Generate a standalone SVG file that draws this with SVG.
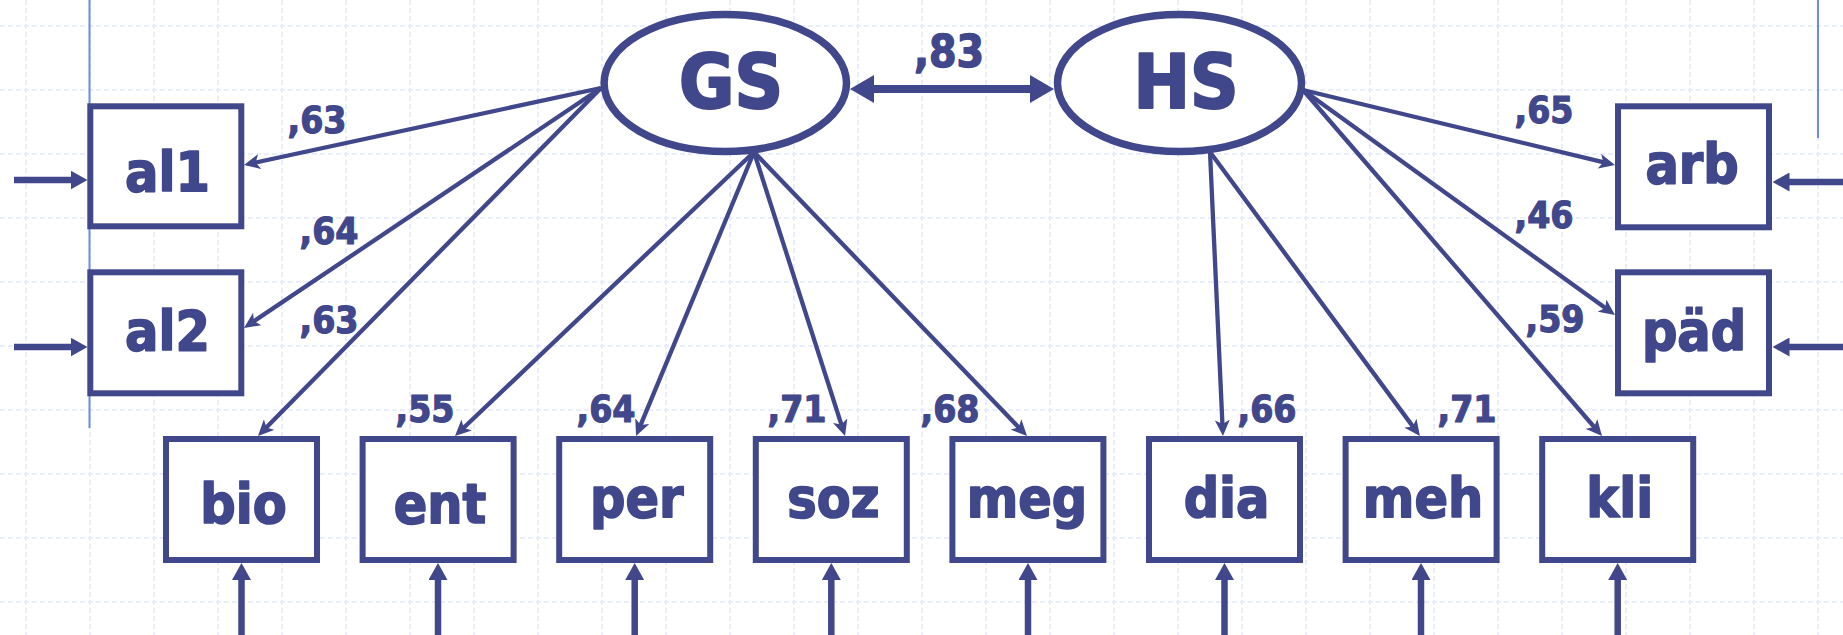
<svg xmlns="http://www.w3.org/2000/svg" width="1843" height="635" viewBox="0 0 1843 635">
<style>
.grid line{stroke:#e3e8fa;stroke-width:1.6;stroke-dasharray:5 3}
.box{fill:#ffffff;stroke:#41478b;stroke-width:6}
.ell{fill:#ffffff;stroke:#41478b;stroke-width:7.5}
.lbl{font-family:"DejaVu Sans Condensed","DejaVu Sans",sans-serif;font-stretch:condensed;font-weight:bold;fill:#41478b;stroke:#41478b;text-anchor:middle;stroke-linejoin:round}
.node{font-size:55px;stroke-width:1.6}
.lat{font-size:75px;stroke-width:2.2}
.coef{font-size:37px;stroke-width:1.1}
.conn{stroke:#41478b;stroke-width:4.3;fill:none;marker-end:url(#ah)}
.inp{stroke:#41478b;stroke-width:6.5;fill:none;marker-end:url(#ih)}
.side{stroke:#6d89f0;stroke-width:2}
</style>
<defs>
<marker id="ah" viewBox="0 0 16 15" refX="8" refY="7.5" markerWidth="16" markerHeight="15" markerUnits="userSpaceOnUse" orient="auto"><path d="M0,0 L16,7.5 L0,15 L4,7.5 z" fill="#41478b"/></marker>
<marker id="ih" viewBox="0 0 17 19" refX="8" refY="9.5" markerWidth="17" markerHeight="19" markerUnits="userSpaceOnUse" orient="auto"><path d="M0,0 L17,9.5 L0,19 z" fill="#41478b"/></marker>
<marker id="bh" viewBox="0 0 24 28" refX="12" refY="14" markerWidth="24" markerHeight="28" markerUnits="userSpaceOnUse" orient="auto-start-reverse"><path d="M0,0 L24,14 L0,28 z" fill="#41478b"/></marker>
</defs>
<rect width="1843" height="635" fill="#ffffff"/>
<g class="grid">
<line x1="26" y1="0" x2="26" y2="635"/><line x1="90" y1="0" x2="90" y2="635"/><line x1="154" y1="0" x2="154" y2="635"/><line x1="218" y1="0" x2="218" y2="635"/><line x1="282" y1="0" x2="282" y2="635"/><line x1="346" y1="0" x2="346" y2="635"/><line x1="410" y1="0" x2="410" y2="635"/><line x1="474" y1="0" x2="474" y2="635"/><line x1="538" y1="0" x2="538" y2="635"/><line x1="602" y1="0" x2="602" y2="635"/><line x1="666" y1="0" x2="666" y2="635"/><line x1="730" y1="0" x2="730" y2="635"/><line x1="794" y1="0" x2="794" y2="635"/><line x1="858" y1="0" x2="858" y2="635"/><line x1="922" y1="0" x2="922" y2="635"/><line x1="986" y1="0" x2="986" y2="635"/><line x1="1050" y1="0" x2="1050" y2="635"/><line x1="1114" y1="0" x2="1114" y2="635"/><line x1="1178" y1="0" x2="1178" y2="635"/><line x1="1242" y1="0" x2="1242" y2="635"/><line x1="1306" y1="0" x2="1306" y2="635"/><line x1="1370" y1="0" x2="1370" y2="635"/><line x1="1434" y1="0" x2="1434" y2="635"/><line x1="1498" y1="0" x2="1498" y2="635"/><line x1="1562" y1="0" x2="1562" y2="635"/><line x1="1626" y1="0" x2="1626" y2="635"/><line x1="1690" y1="0" x2="1690" y2="635"/><line x1="1754" y1="0" x2="1754" y2="635"/><line x1="1818" y1="0" x2="1818" y2="635"/>
<line x1="0" y1="26" x2="1843" y2="26"/><line x1="0" y1="90" x2="1843" y2="90"/><line x1="0" y1="154" x2="1843" y2="154"/><line x1="0" y1="218" x2="1843" y2="218"/><line x1="0" y1="282" x2="1843" y2="282"/><line x1="0" y1="346" x2="1843" y2="346"/><line x1="0" y1="410" x2="1843" y2="410"/><line x1="0" y1="474" x2="1843" y2="474"/><line x1="0" y1="538" x2="1843" y2="538"/><line x1="0" y1="602" x2="1843" y2="602"/>
</g>
<line class="side" x1="89.5" y1="0" x2="89.5" y2="428"/>
<line class="side" x1="1818" y1="0" x2="1818" y2="138"/>
<g id="connectors">
<line class="conn" x1="601" y1="88" x2="251.8" y2="163.3"/>
<line class="conn" x1="601" y1="88" x2="250.6" y2="323.5"/>
<line class="conn" x1="601" y1="88" x2="263.6" y2="430.3"/>
<line class="conn" x1="754" y1="152" x2="460.8" y2="430.5"/>
<line class="conn" x1="754" y1="152" x2="639.1" y2="428.6"/>
<line class="conn" x1="754" y1="152" x2="842.6" y2="428.4"/>
<line class="conn" x1="754" y1="152" x2="1021.5" y2="430.2"/>
<line class="conn" x1="1210" y1="152" x2="1222.6" y2="428"/>
<line class="conn" x1="1210" y1="152" x2="1415.2" y2="429.6"/>
<line class="conn" x1="1303" y1="90" x2="1596.8" y2="430"/>
<line class="conn" x1="1303" y1="90" x2="1607.2" y2="163.1"/>
<line class="conn" x1="1303" y1="90" x2="1608.5" y2="310.3"/>
<line x1="862" y1="89" x2="1042" y2="89" stroke="#41478b" stroke-width="8" marker-start="url(#bh)" marker-end="url(#bh)"/>
<line class="inp" x1="14" y1="180" x2="78.5" y2="180"/>
<line class="inp" x1="14" y1="347" x2="78.5" y2="347"/>
<line class="inp" x1="1843" y1="182" x2="1781.5" y2="182"/>
<line class="inp" x1="1843" y1="347" x2="1781.5" y2="347"/>
<line class="inp" x1="241.5" y1="635" x2="241.5" y2="572"/>
<line class="inp" x1="438" y1="635" x2="438" y2="572"/>
<line class="inp" x1="634.7" y1="635" x2="634.7" y2="572"/>
<line class="inp" x1="831.3" y1="635" x2="831.3" y2="572"/>
<line class="inp" x1="1028" y1="635" x2="1028" y2="572"/>
<line class="inp" x1="1224.5" y1="635" x2="1224.5" y2="572"/>
<line class="inp" x1="1421" y1="635" x2="1421" y2="572"/>
<line class="inp" x1="1617.7" y1="635" x2="1617.7" y2="572"/>
</g>
<g id="labels" class="lbl coef">
<text x="317" y="133">,63</text>
<text x="329" y="244">,64</text>
<text x="329" y="333">,63</text>
<text x="425" y="422">,55</text>
<text x="606" y="422">,64</text>
<text x="797" y="422">,71</text>
<text x="950" y="422">,68</text>
<text x="1267" y="422">,66</text>
<text x="1467" y="422">,71</text>
<text x="1544" y="123">,65</text>
<text x="1544" y="228">,46</text>
<text x="1555" y="332">,59</text>
<text x="949" y="67" style="font-size:44px;stroke-width:1.3">,83</text>
</g>
<g id="GS"><ellipse class="ell" cx="725.3" cy="83" rx="121.2" ry="68.5"/><text class="lbl lat" x="731" y="108">GS</text></g>
<g id="HS"><ellipse class="ell" cx="1179.5" cy="83" rx="122" ry="68.5"/><text class="lbl lat" x="1186" y="108">HS</text></g>
<g id="al1"><rect class="box" x="90.3" y="106.3" width="151" height="120"/><text class="lbl node" x="167.5" y="190.5">al1</text></g>
<g id="al2"><rect class="box" x="90.3" y="272.3" width="151" height="121"/><text class="lbl node" x="167.5" y="350">al2</text></g>
<g id="arb"><rect class="box" x="1618" y="106.3" width="151" height="121"/><text class="lbl node" x="1692" y="183">arb</text></g>
<g id="paed"><rect class="box" x="1618" y="272.3" width="151" height="121"/><text class="lbl node" x="1694" y="350">päd</text></g>
<g id="bio"><rect class="box" x="166" y="439" width="151" height="121"/><text class="lbl node" x="243.5" y="523">bio</text></g>
<g id="ent"><rect class="box" x="362.6" y="439" width="151" height="121"/><text class="lbl node" x="440" y="523">ent</text></g>
<g id="per"><rect class="box" x="559.2" y="439" width="151" height="121"/><text class="lbl node" x="636.7" y="517">per</text></g>
<g id="soz"><rect class="box" x="755.8" y="439" width="151" height="121"/><text class="lbl node" x="833.3" y="517">soz</text></g>
<g id="meg"><rect class="box" x="952.4" y="439" width="151" height="121"/><text class="lbl node" x="1027" y="517">meg</text></g>
<g id="dia"><rect class="box" x="1149" y="439" width="151" height="121"/><text class="lbl node" x="1226.5" y="517">dia</text></g>
<g id="meh"><rect class="box" x="1345.6" y="439" width="151" height="121"/><text class="lbl node" x="1423" y="517">meh</text></g>
<g id="kli"><rect class="box" x="1542.2" y="439" width="151" height="121"/><text class="lbl node" x="1619.7" y="517">kli</text></g>
</svg>
